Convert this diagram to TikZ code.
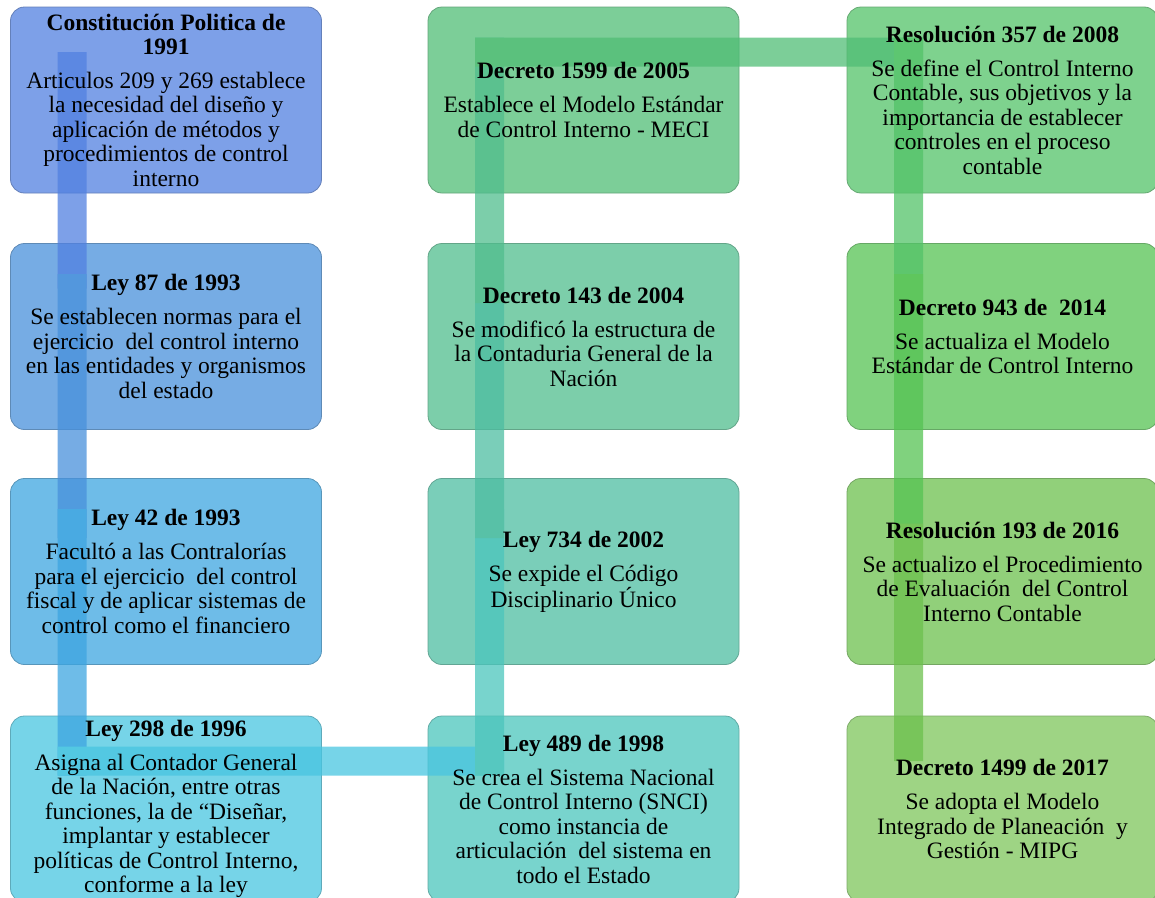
\documentclass[tikz,border=0pt]{standalone}
\usepackage{fontspec}
\setmainfont{Liberation Serif}

% relleno de las cajas
\definecolor{c11}{RGB}{125,160,232}
\definecolor{c21}{RGB}{118,172,228}
\definecolor{c31}{RGB}{110,188,232}
\definecolor{c41}{RGB}{118,212,232}
\definecolor{c42}{RGB}{120,212,205}
\definecolor{c32}{RGB}{122,206,185}
\definecolor{c22}{RGB}{124,206,170}
\definecolor{c12}{RGB}{124,206,152}
\definecolor{c13}{RGB}{126,210,142}
\definecolor{c23}{RGB}{128,210,126}
\definecolor{c33}{RGB}{145,208,122}
\definecolor{c43}{RGB}{158,212,132}
% tramos del conector
\definecolor{d11}{RGB}{81,128,224}
\definecolor{d21}{RGB}{72,144,219}
\definecolor{d31}{RGB}{61,165,224}
\definecolor{d41}{RGB}{72,197,224}
\definecolor{d42}{RGB}{75,197,188}
\definecolor{d32}{RGB}{77,189,161}
\definecolor{d22}{RGB}{80,189,141}
\definecolor{d12}{RGB}{80,189,117}
\definecolor{d13}{RGB}{83,195,104}
\definecolor{d23}{RGB}{85,195,83}
\definecolor{d33}{RGB}{108,192,77}

\tikzset{
  etapa/.style = {draw = #1!80!black, line width = .8pt, fill = #1,
    rounded corners = 14pt, minimum width = 311pt, minimum height = 186pt,
    inner sep = 0pt},
  texto/.style = {align = center, inner sep = 0pt,
    font = \fontsize{23.5}{24.5}\selectfont},
  enlace/.style = {line width = 29pt, draw = #1}
}

\begin{document}
\begin{tikzpicture}[x=1pt,y=-1pt]
  \useasboundingbox (0,0) rectangle (1155,897);
  \clip (0,0) rectangle (1155,897);
  % cajas
  \foreach \n/\x/\y in {11/166/100, 21/166/336.5, 31/166/571.5, 41/166/809,
    12/583.5/100, 22/583.5/336.5, 32/583.5/571.5, 42/583.5/809,
    13/1002.5/100, 23/1002.5/336.5, 33/1002.5/571.5, 43/1002.5/809}
  \node[etapa = c\n] (b\n) at (\x,\y) {};
  \foreach \n in {11,21,31,41,12,22,32,42,13,23,33,43}
  \coordinate (k\n) at ([shift={(-94,-48)}]b\n.center);
  % conector
  \begin{scope}[transparency group, opacity = .75]
    \draw[enlace = d11, line cap = butt] (k11) -- (k21);
    \foreach \a/\b in {21/31, 31/41, 41/42, 42/32, 32/22, 22/12, 12/13, 13/23, 23/33}
    \draw[enlace = d\a, line cap = rect] (k\a) -- (k\b);
    \draw[enlace = d33, line cap = butt] (k33) -- (k43);
  \end{scope}
  % textos
  \node[texto] (t11) at (b11) {\textbf{Constitución Politica de}\\\textbf{1991}\\[9pt]
    Articulos 209 y 269 establece\\la necesidad del diseño y\\aplicación de métodos y\\
    procedimientos de control\\interno};
  \node[texto] (t21) at (b21) {\textbf{Ley 87 de 1993}\\[9.5pt]
    Se establecen normas para el\\ejercicio\ \ del control interno\\
    en las entidades y organismos\\del estado};
  \node[texto] (t31) at (b31) {\textbf{Ley 42 de 1993}\\[9.5pt]
    Facultó a las Contralorías\\para el ejercicio\ \ del control\\
    fiscal y de aplicar sistemas de\\control como el financiero};
  \node[texto] (t41) at (b41) {\textbf{Ley 298 de 1996}\\[9.5pt]
    Asigna al Contador General\\de la Nación, entre otras\\funciones, la de “Diseñar,\\
    implantar y establecer\\políticas de Control Interno,\\conforme a la ley};
  \node[texto] (t42) at (b42) {\textbf{Ley 489 de 1998}\\[9.5pt]
    Se crea el Sistema Nacional\\de Control Interno (SNCI)\\como instancia de\\
    articulación\ \ del sistema en\\todo el Estado};
  \node[texto] (t32) at (b32) {\textbf{Ley 734 de 2002}\\[9.5pt]
    Se expide el Código\\Disciplinario Único};
  \node[texto] (t22) at (b22) {\textbf{Decreto 143 de 2004}\\[9.5pt]
    Se modificó la estructura de\\la Contaduria General de la\\Nación};
  \node[texto] (t12) at (b12) {\textbf{Decreto 1599 de 2005}\\[9.5pt]
    Establece el Modelo Estándar\\de Control Interno - MECI};
  \node[texto] (t13) at (b13) {\textbf{Resolución 357 de 2008}\\[9.5pt]
    Se define el Control Interno\\Contable, sus objetivos y la\\importancia de establecer\\
    controles en el proceso\\contable};
  \node[texto] (t23) at (b23) {\textbf{Decreto 943 de\ \ 2014}\\[9.5pt]
    Se actualiza el Modelo\\Estándar de Control Interno};
  \node[texto] (t33) at (b33) {\textbf{Resolución 193 de 2016}\\[9.5pt]
    Se actualizo el Procedimiento\\de Evaluación\ \ del Control\\Interno Contable};
  \node[texto] (t43) at (b43) {\textbf{Decreto 1499 de 2017}\\[9.5pt]
    Se adopta el Modelo\\Integrado de Planeación\ \ y\\Gestión - MIPG};
\end{tikzpicture}
\end{document}
